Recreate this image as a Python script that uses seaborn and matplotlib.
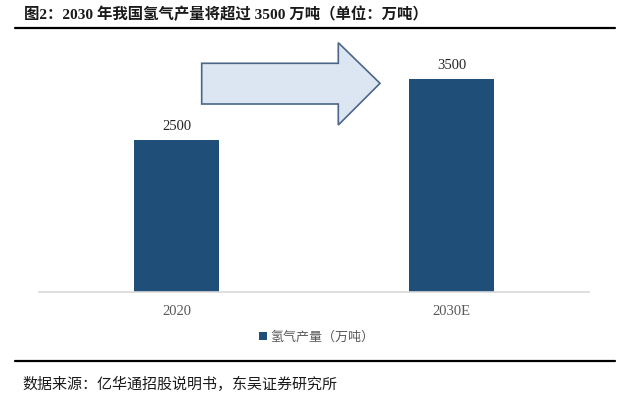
import matplotlib
matplotlib.use("Agg")
import matplotlib.pyplot as plt
from matplotlib.patches import Polygon, Patch
from matplotlib.lines import Line2D
import seaborn as sns
import pandas as pd

categories = ["2020", "2030E"]
values = [2500, 3500]
series_name = "氢气产量（万吨）"
title = "图2：2030 年我国氢气产量将超过 3500 万吨（单位：万吨）"
source = "数据来源：亿华通招股说明书，东吴证券研究所"

sns.set_theme(style="white")
plt.rcParams['font.family'] = ['Liberation Serif', 'Noto Sans CJK SC', 'DejaVu Sans']

W, H = 640, 398
fig = plt.figure(figsize=(W / 100, H / 100), dpi=100)

def fx(x):
    return x / W

def fy(y):
    return 1 - y / H

BAR = "#1F4E79"
ax = fig.add_axes([fx(39.3), fy(292.3), 550 / W, 244.1 / H])

df = pd.DataFrame({"cat": categories, "val": values})
sns.barplot(data=df, x="cat", y="val", color=BAR, width=0.31, ax=ax,
            saturation=1, edgecolor="none")
ax.set_ylim(0, 4000)
ax.set_xlim(-0.5, 1.5)
ax.set_xlabel("")
ax.set_ylabel("")
ax.set_yticks([])
for s in ["left", "top", "right"]:
    ax.spines[s].set_visible(False)
ax.spines["bottom"].set_color("#D9D9D9")
ax.spines["bottom"].set_linewidth(1.2)
ax.tick_params(axis="x", which="major", length=0, pad=9, labelsize=10.5,
               labelcolor="#595959")
ax.set_xticks([-0.5, 0.5, 1.5], minor=True)
ax.tick_params(axis="x", which="minor", length=4, width=1, color="#D9D9D9")
for lab in ax.get_xticklabels():
    lab.set_family(["Liberation Serif"])

for c in ax.containers:
    ax.bar_label(c, labels=[str(v) for v in values], padding=5,
                 fontsize=10.5, color="#262626", family=["Liberation Serif"])

# legend
fig.legend(handles=[Patch(facecolor=BAR, edgecolor="none", label=series_name)],
           loc="center", bbox_to_anchor=(fx(317), fy(337)), frameon=False,
           handlelength=0.55, handleheight=0.55, handletextpad=0.3,
           labelcolor="#595959", prop={"family": ["Noto Sans CJK SC"], "size": 9.4})

# arrow shape
pts = [(201.7, 63.3), (338.3, 63.3), (338.3, 42.7), (380, 83.3),
       (338.3, 125), (338.3, 104), (201.7, 104)]
fig.add_artist(Polygon([(fx(x), fy(y)) for x, y in pts], closed=True,
                       transform=fig.transFigure, facecolor="#DCE6F2",
                       edgecolor="#4A6688", linewidth=1.2))

# title and rules
fig.text(fx(24), fy(14), title, fontsize=11.1, fontweight="bold", color="#1a1a1a",
         va="center", ha="left",
         family=["Liberation Serif", "Noto Sans CJK SC"])
fig.add_artist(Line2D([fx(15), fx(615)], [fy(28.3)] * 2, color="black", lw=1.6,
                      transform=fig.transFigure))
fig.add_artist(Line2D([fx(15), fx(615)], [fy(360.7)] * 2, color="black", lw=1.6,
                      transform=fig.transFigure))
fig.text(fx(22), fy(384), source, fontsize=10.8, color="#1a1a1a",
         va="center", ha="left", family=["Noto Sans CJK SC"])

fig.savefig("out.png", dpi=100)
